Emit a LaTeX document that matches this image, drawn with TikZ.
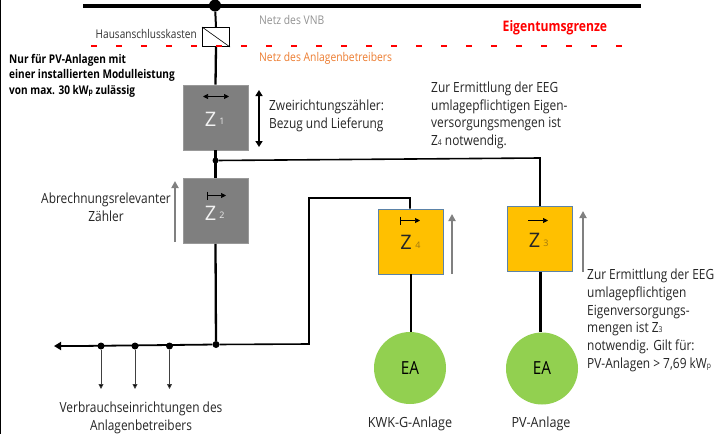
\documentclass[tikz,border=0pt]{standalone}
\usepackage{fontspec}
\setmainfont{Open Sans}
\usetikzlibrary{arrows.meta}
\definecolor{metergray}{HTML}{7F7F7F}
\definecolor{meteryellow}{HTML}{FFC000}
\definecolor{meteredge}{HTML}{5B83A8}
\definecolor{eagreen}{HTML}{92D050}
\definecolor{orangetext}{HTML}{ED7D31}
\definecolor{subyellow}{HTML}{A07810}
\tikzset{
  wire/.style={line width=2.3pt,black},
  thinwire/.style={line width=1.6pt,black},
  graymeter/.style={draw=gray!80!white,line width=.8pt,fill=metergray,minimum width=65pt,minimum height=65pt,inner sep=0pt},
  yellowmeter/.style={draw=meteredge,line width=.9pt,fill=meteryellow,minimum width=65pt,minimum height=65pt,inner sep=0pt},
  plant/.style={circle,fill=eagreen,minimum size=72pt,inner sep=0pt,font=\fontsize{18}{18}\selectfont\addfontfeatures{FakeStretch=.85}},
  dot/.style={circle,fill=black,minimum size=#1,inner sep=0pt},
  lab/.style={font=\fontsize{14}{17.7}\selectfont\addfontfeatures{FakeStretch=.85},color=black!85,inner sep=0pt,align=left},
  wlab/.style={font=\fontsize{14}{17.7}\selectfont\addfontfeatures{FakeStretch=.9},color=black!85,inner sep=0pt,align=left},
  small/.style={font=\fontsize{12}{14}\selectfont\addfontfeatures{FakeStretch=.86},inner sep=0pt,align=left},
  bold/.style={font=\fontsize{12}{15.5}\selectfont\bfseries\addfontfeatures{FakeStretch=.84},inner sep=0pt,align=left},
  meterz/.style={font=\fontsize{20}{20}\selectfont,inner sep=0pt},
  meterz2/.style={font=\fontsize{9}{9}\selectfont,inner sep=0pt},
  sidearrow/.style={line width=2pt,draw=gray,-{Triangle[length=7pt,width=7pt]}},
  blackarrow/.style={line width=.9pt,-{Triangle[length=5pt,width=5pt]}}
}
\begin{document}
\begin{tikzpicture}[x=1pt,y=-1pt]
\useasboundingbox (0,0) rectangle (717,434);
\fill[white] (0,0) rectangle (717,434);
\draw[black,line width=1pt] (0.5,0) -- (0.5,434);
% top rail
\coordinate (railL) at (83,5.5);
\coordinate (railR) at (641,5.5);
\draw[line width=4pt] (railL) -- (railR);
\node[dot=12pt] (top) at (215,5.5) {};
% HAK
\node[draw,line width=1pt,fill=white,minimum width=27pt,minimum height=19pt,inner sep=0pt] (hak) at (216,37) {};
\draw[line width=.6pt] (hak.north west) -- (hak.south east);
\draw[line width=2pt] (top) -- (hak.north);
% red line
\coordinate (redL) at (91,46);
\coordinate (redR) at (627,46);
\draw[red,line width=2pt,dash pattern=on 6pt off 19pt,dash phase=0pt] (redL) -- (redR);
% meters
\node[graymeter] (z1) at (215.5,117.5) {};
\node[graymeter] (z2) at (215.5,211) {};
\node[yellowmeter] (z4) at (411,241.5) {};
\node[yellowmeter] (z3) at (539.5,239) {};
\node[plant] (ea4) at (410,368) {EA};
\node[plant] (ea3) at (542,368.5) {EA};
% wires
\coordinate (j1) at (215.5,160.5);
\coordinate (j2) at (216,344.5);
\node[dot=6pt] (j1d) at (j1) {};
\node[dot=7pt] (j2d) at (j2) {};
\draw[wire] (hak.south) -- (z1.north);
\draw[wire] (z1.south) -- (z2.north);
\draw[wire] (z2.south) -- (j2d);
\draw[thinwire] (j1d) -- (540,158) -- (z3.north -| 540,0);
\draw[thinwire] (j2d) -- (309,344) -- (309,198) -- (410,198) -- (z4.north -| 410,0);
\draw[wire] (z4.south -| 411,0) -- (ea4.north -| 411,0);
\draw[wire] (z3.south -| 540.5,0) -- (ea3.north -| 540.5,0);
% bus
\coordinate (busEnd) at (54,346);
\coordinate (busThick) at (79,346);
\draw[line width=1.8pt] (j2d) -- (busThick);
\draw[line width=2.8pt,-{Triangle[length=7pt,width=8pt]}] (busThick) -- (busEnd);
\foreach \n/\x in {a/101,b/135,c/169.5}{
  \node[dot=7pt] (d\n) at (\x,346) {};
  \coordinate (e\n) at (\x,389);
  \draw[line width=.8pt,draw=black!75,-{Triangle[length=5pt,width=5pt,fill=black]}] (d\n) -- (e\n);
}
% meter symbols
\coordinate (z1a) at (203,96.5); \coordinate (z1b) at (229,96.5);
\draw[line width=.7pt,{Triangle[length=5pt,width=5pt]}-{Triangle[length=5pt,width=5pt]}] (z1a) -- (z1b);
\coordinate (z2a) at (207,195.5); \coordinate (z2b) at (226,195.5);
\draw[blackarrow,line width=.7pt] (z2a) -- (z2b);
\draw[line width=.5pt] (207,191.5) -- (207,199.5);
\coordinate (z4a) at (400,220.5); \coordinate (z4b) at (420,220.5);
\draw[blackarrow,line width=.7pt] (z4a) -- (z4b);
\draw[line width=.5pt] (400,216.5) -- (400,224.5);
\coordinate (z3a) at (528,220.5); \coordinate (z3b) at (548,220.5);
\draw[blackarrow,line width=.7pt] (z3a) -- (z3b);
% Z labels
\node[meterz,text=white!90!gray] (z1t) at (210.5,119) {Z};
\node[meterz2,text=white!85!gray] (z1s) at (222,121.5) {1};
\node[meterz,text=white!90!gray] (z2t) at (210.5,213) {Z};
\node[meterz2,text=white!85!gray] (z2s) at (222,215.5) {2};
\node[meterz,text=black!85] (z4t) at (406,242) {Z};
\node[meterz2,text=subyellow] (z4s) at (418,245) {4};
\node[meterz,text=black!85] (z3t) at (534.5,240) {Z};
\node[meterz2,text=subyellow] (z3s) at (546,243) {3};
% side arrows
\coordinate (s1a) at (259,90); \coordinate (s1b) at (259,147);
\draw[line width=1.5pt,{Triangle[length=6pt,width=7pt]}-{Triangle[length=6pt,width=7pt]}] (s1a) -- (s1b);
\coordinate (s2a) at (175,242); \coordinate (s2b) at (175,181);
\draw[sidearrow] (s2a) -- (s2b);
\coordinate (s4a) at (452,274); \coordinate (s4b) at (452,214);
\draw[sidearrow] (s4a) -- (s4b);
\coordinate (s3a) at (583,272); \coordinate (s3b) at (583,211);
\draw[sidearrow] (s3a) -- (s3b);
% texts
\node[small,anchor=east,color=black!80,font=\fontsize{12}{14}\selectfont\addfontfeatures{FakeStretch=.84}] (t1) at (197,34) {Hausanschlusskasten};
\node[small,anchor=west,color=gray!85] (t2) at (259,19.5) {Netz des VNB};
\node[small,anchor=west,color=orangetext] (t3) at (259,58.5) {Netz des Anlagenbetreibers};
\node[anchor=west,inner sep=0pt,text=red,font=\fontsize{14.5}{14}\selectfont\bfseries\addfontfeatures{FakeStretch=.84}] (t4) at (502.5,28) {Eigentumsgrenze};
\node[bold,anchor=north west] (t5) at (9,54) {Nur für PV-Anlagen mit\\einer installierten Modulleistung\\von max. 30 kW{\fontsize{8}{8}\selectfont p} zulässig};
\node[lab,anchor=north west] (t6) at (269,99.5) {Zweirichtungszähler:\\Bezug und Lieferung};
\node[lab,anchor=north west] (t7) at (431,81.5) {Zur Ermittlung der EEG\\umlagepflichtigen Eigen-\\versorgungsmengen ist\\Z{\fontsize{8}{8}\selectfont 4} notwendig.};
\node[lab,anchor=north,align=center] (t8) at (106,193) {Abrechnungsrelevanter\\Zähler};
\node[lab,anchor=north west] (t9) at (587,269) {Zur Ermittlung der EEG\\umlagepflichtigen\\Eigenversorgungs-\\mengen ist Z{\fontsize{8}{8}\selectfont 3}\\notwendig. Gilt für:\\PV-Anlagen > 7,69 kW{\fontsize{8}{8}\selectfont p}};
\node[lab,anchor=north,align=center] (t10) at (141,402) {Verbrauchseinrichtungen des\\Anlagenbetreibers};
\node[wlab,anchor=center] (t11) at (410,424) {KWK-G-Anlage};
\node[wlab,anchor=center] (t12) at (541,424) {PV-Anlage};
\end{tikzpicture}
\end{document}
